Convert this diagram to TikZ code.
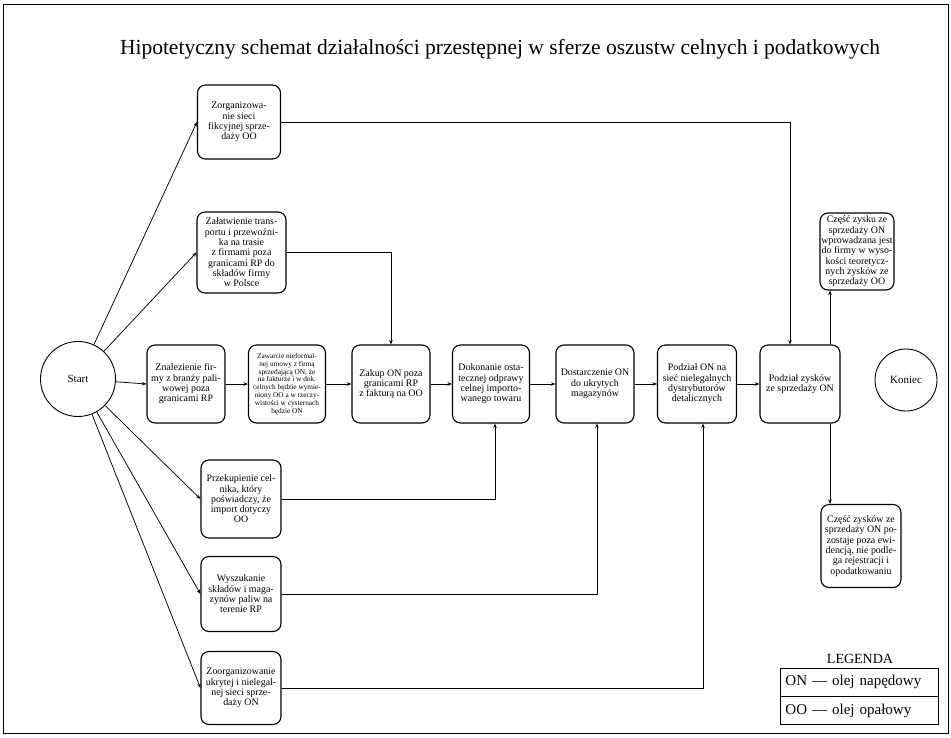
\documentclass[tikz,border=0pt]{standalone}
\usepackage{fontspec}
\setmainfont{Liberation Serif}
\usetikzlibrary{arrows.meta}
\begin{document}
\begin{tikzpicture}[x=1pt,y=-1pt,
  box/.style={draw, rounded corners=8pt, line width=1.1pt, align=center, inner sep=1pt,
    font=\fontsize{9.9}{10.3}\selectfont},
  tinybox/.style={box, font=\fontsize{7.3}{7.9}\selectfont},
  flow/.style={line width=0.75pt, -{Stealth[length=4.5pt,width=3.5pt]}},
  endpt/.style={draw, circle, line width=0.9pt, font=\fontsize{11}{12}\selectfont},
  legrow/.style={draw, line width=0.9pt, minimum width=158pt, minimum height=27.5pt,
    anchor=north west, inner xsep=5pt, text width=148pt, align=left,
    font=\fontsize{15}{17}\selectfont},
]
\useasboundingbox (0,0) rectangle (951,737);
\draw[line width=1pt] (3,4) rectangle (948,733);

\node[font=\fontsize{21.5}{24}\selectfont] (title) at (500,49)
  {Hipotetyczny schemat działalności przestępnej w sferze oszustw celnych i podatkowych};

% start and end
\node[endpt, minimum size=75pt] (start) at (78,379) {Start};
\node[endpt, minimum size=62pt] (end) at (906,380) {Koniec};

% left column
\node[box, minimum width=83pt, minimum height=74pt] (A) at (239,122)
  {Zorganizowa-\\nie sieci\\fikcyjnej sprze-\\daży OO};
\node[box, minimum width=89pt, minimum height=81pt] (B) at (241.5,252.5)
  {Załatwienie trans-\\portu i przewoźni-\\ka na trasie\\z firmami poza\\granicami RP do\\składów firmy\\w Polsce};
\node[box, minimum width=80pt, minimum height=78pt] (L) at (241,499)
  {Przekupienie cel-\\nika, który\\poświadczy, że\\import dotyczy\\OO};
\node[box, minimum width=80pt, minimum height=75pt] (M) at (241,594)
  {Wyszukanie\\składów i maga-\\zynów paliw na\\terenie RP};
\node[box, minimum width=80pt, minimum height=73pt] (N) at (241,688)
  {Zoorganizowanie\\ukrytej i nielegal-\\nej sieci sprze-\\daży ON};

% main row
\node[box, minimum width=78pt, minimum height=78pt] (C) at (186,384)
  {Znalezienie fir-\\my z branży pali-\\wowej poza\\granicami RP};
\node[tinybox, minimum width=77pt, minimum height=78pt] (D) at (287,384)
  {Zawarcie nieformal-\\nej umowy z firmą\\sprzedającą ON, że\\na fakturze i w dok.\\celnych będzie wymie-\\niony OO a w rzeczy-\\wistości w cysternach\\będzie ON};
\node[box, minimum width=78pt, minimum height=78pt] (E) at (391,384)
  {Zakup ON poza\\granicami RP\\z fakturą na OO};
\node[box, minimum width=77pt, minimum height=78pt] (F) at (491,384)
  {Dokonanie osta-\\tecznej odprawy\\celnej importo-\\wanego towaru};
\node[box, minimum width=78pt, minimum height=78pt] (G) at (595,384)
  {Dostarczenie ON\\do ukrytych\\magazynów};
\node[box, minimum width=79pt, minimum height=78pt] (H) at (697,384)
  {Podział ON na\\sieć nielegalnych\\dystrybutorów\\detalicznych};
\node[box, minimum width=80pt, minimum height=78pt] (I) at (800,384)
  {Podział zysków\\ze sprzedaży ON};

% right side
\node[box, minimum width=74pt, minimum height=77pt] (J) at (857,251.5)
  {Część zysku ze\\sprzedaży ON\\wprowadzana jest\\do firmy w wyso-\\kości teoretycz-\\nych zysków ze\\sprzedaży OO};
\node[box, minimum width=80pt, minimum height=83pt] (K) at (861,546)
  {Część zysków ze\\sprzedaży ON po-\\zostaje poza ewi-\\dencją, nie podle-\\ga rejestracji i\\opodatkowaniu};

% legend
\node[font=\fontsize{14}{16}\selectfont] (legtitle) at (860,659) {LEGENDA};
\node[legrow] (leg1) at (780,668) {ON — olej napędowy};
\node[legrow] (leg2) at (leg1.south west) {OO — olej opałowy};

% connectors from start
\foreach \t in {A,B,C,L,M,N}
  \draw[flow] (start) -- (\t.west);

% main row chain
\draw[flow] (C) -- (D);
\draw[flow] (D) -- (E);
\draw[flow] (E) -- (F);
\draw[flow] (F) -- (G);
\draw[flow] (G) -- (H);
\draw[flow] (H) -- (I);

% side feeds into the main row
\draw[flow] (A.east) -| ([xshift=-10pt]I.north);
\draw[flow] (B.east) -| (E.north);
\draw[flow] (L.east) -| ([xshift=4pt]F.south);
\draw[flow] (M.east) -| ([xshift=2pt]G.south);
\draw[flow] (N.east) -| ([xshift=6pt]H.south);

% profit split
\draw[flow] ([xshift=30pt]I.north) -- ([xshift=30pt]I.north |- J.south);
\draw[flow] ([xshift=30pt]I.south) -- ([xshift=30pt]I.south |- K.north);
\end{tikzpicture}
\end{document}
